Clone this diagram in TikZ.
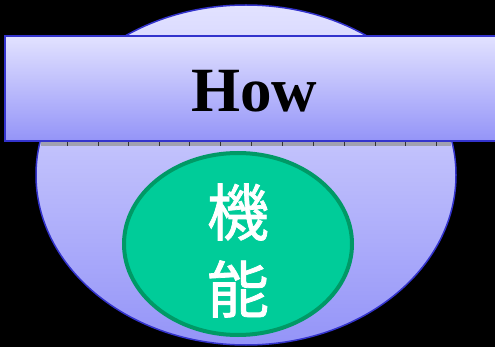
\documentclass[tikz,border=0pt]{standalone}
\usepackage{fontspec}
\setmainfont{Liberation Serif}
\newfontfamily\cjk[FakeBold=1.2]{Noto Sans CJK JP}
\definecolor{bordblue}{HTML}{3333CC}
\definecolor{ltop}{HTML}{E2E2FF}
\definecolor{lbot}{HTML}{9494F8}
\definecolor{gfill}{HTML}{00CC99}
\definecolor{gbord}{HTML}{009966}
\definecolor{stripgray}{HTML}{A0A0B0}
\begin{document}
\begin{tikzpicture}[x=1pt,y=-1pt,
  outer/.style={draw=bordblue,line width=1.5pt,top color=ltop,bottom color=lbot},
  inner/.style={draw=gbord,line width=4pt,fill=gfill}]
\useasboundingbox[fill=black] (0,0) rectangle (495,347);
\begin{scope}
\clip (0,0) rectangle (495,347);
\path[outer] (246,175) ellipse [x radius=210, y radius=170];
\end{scope}
\node[name=big, coordinate] at (246,175) {};
% shadow strip
\fill[stripgray] (41,141) rectangle (451,146);
\foreach \x in {67,98,128,159,189,220,251,282,313,344,375,405,436}
  \draw[gray!40!black,line width=0.6pt] (\x,141) -- (\x,146);
% top bar
\begin{scope}
\clip (0,0) rectangle (495,347);
\path[outer] (5,36) rectangle (505,141);
\end{scope}
\node[font=\fontsize{63}{63}\selectfont\bfseries] (how) at (254,91) {How};
% green ellipse
\path[inner] (238,244) ellipse [x radius=114, y radius=91];
\node[font=\cjk\fontsize{62}{62}\selectfont, text=white] (ki) at (238,212) {機};
\node[font=\cjk\fontsize{62}{62}\selectfont, text=white] (no) at (238,289) {能};
\end{tikzpicture}
\end{document}
